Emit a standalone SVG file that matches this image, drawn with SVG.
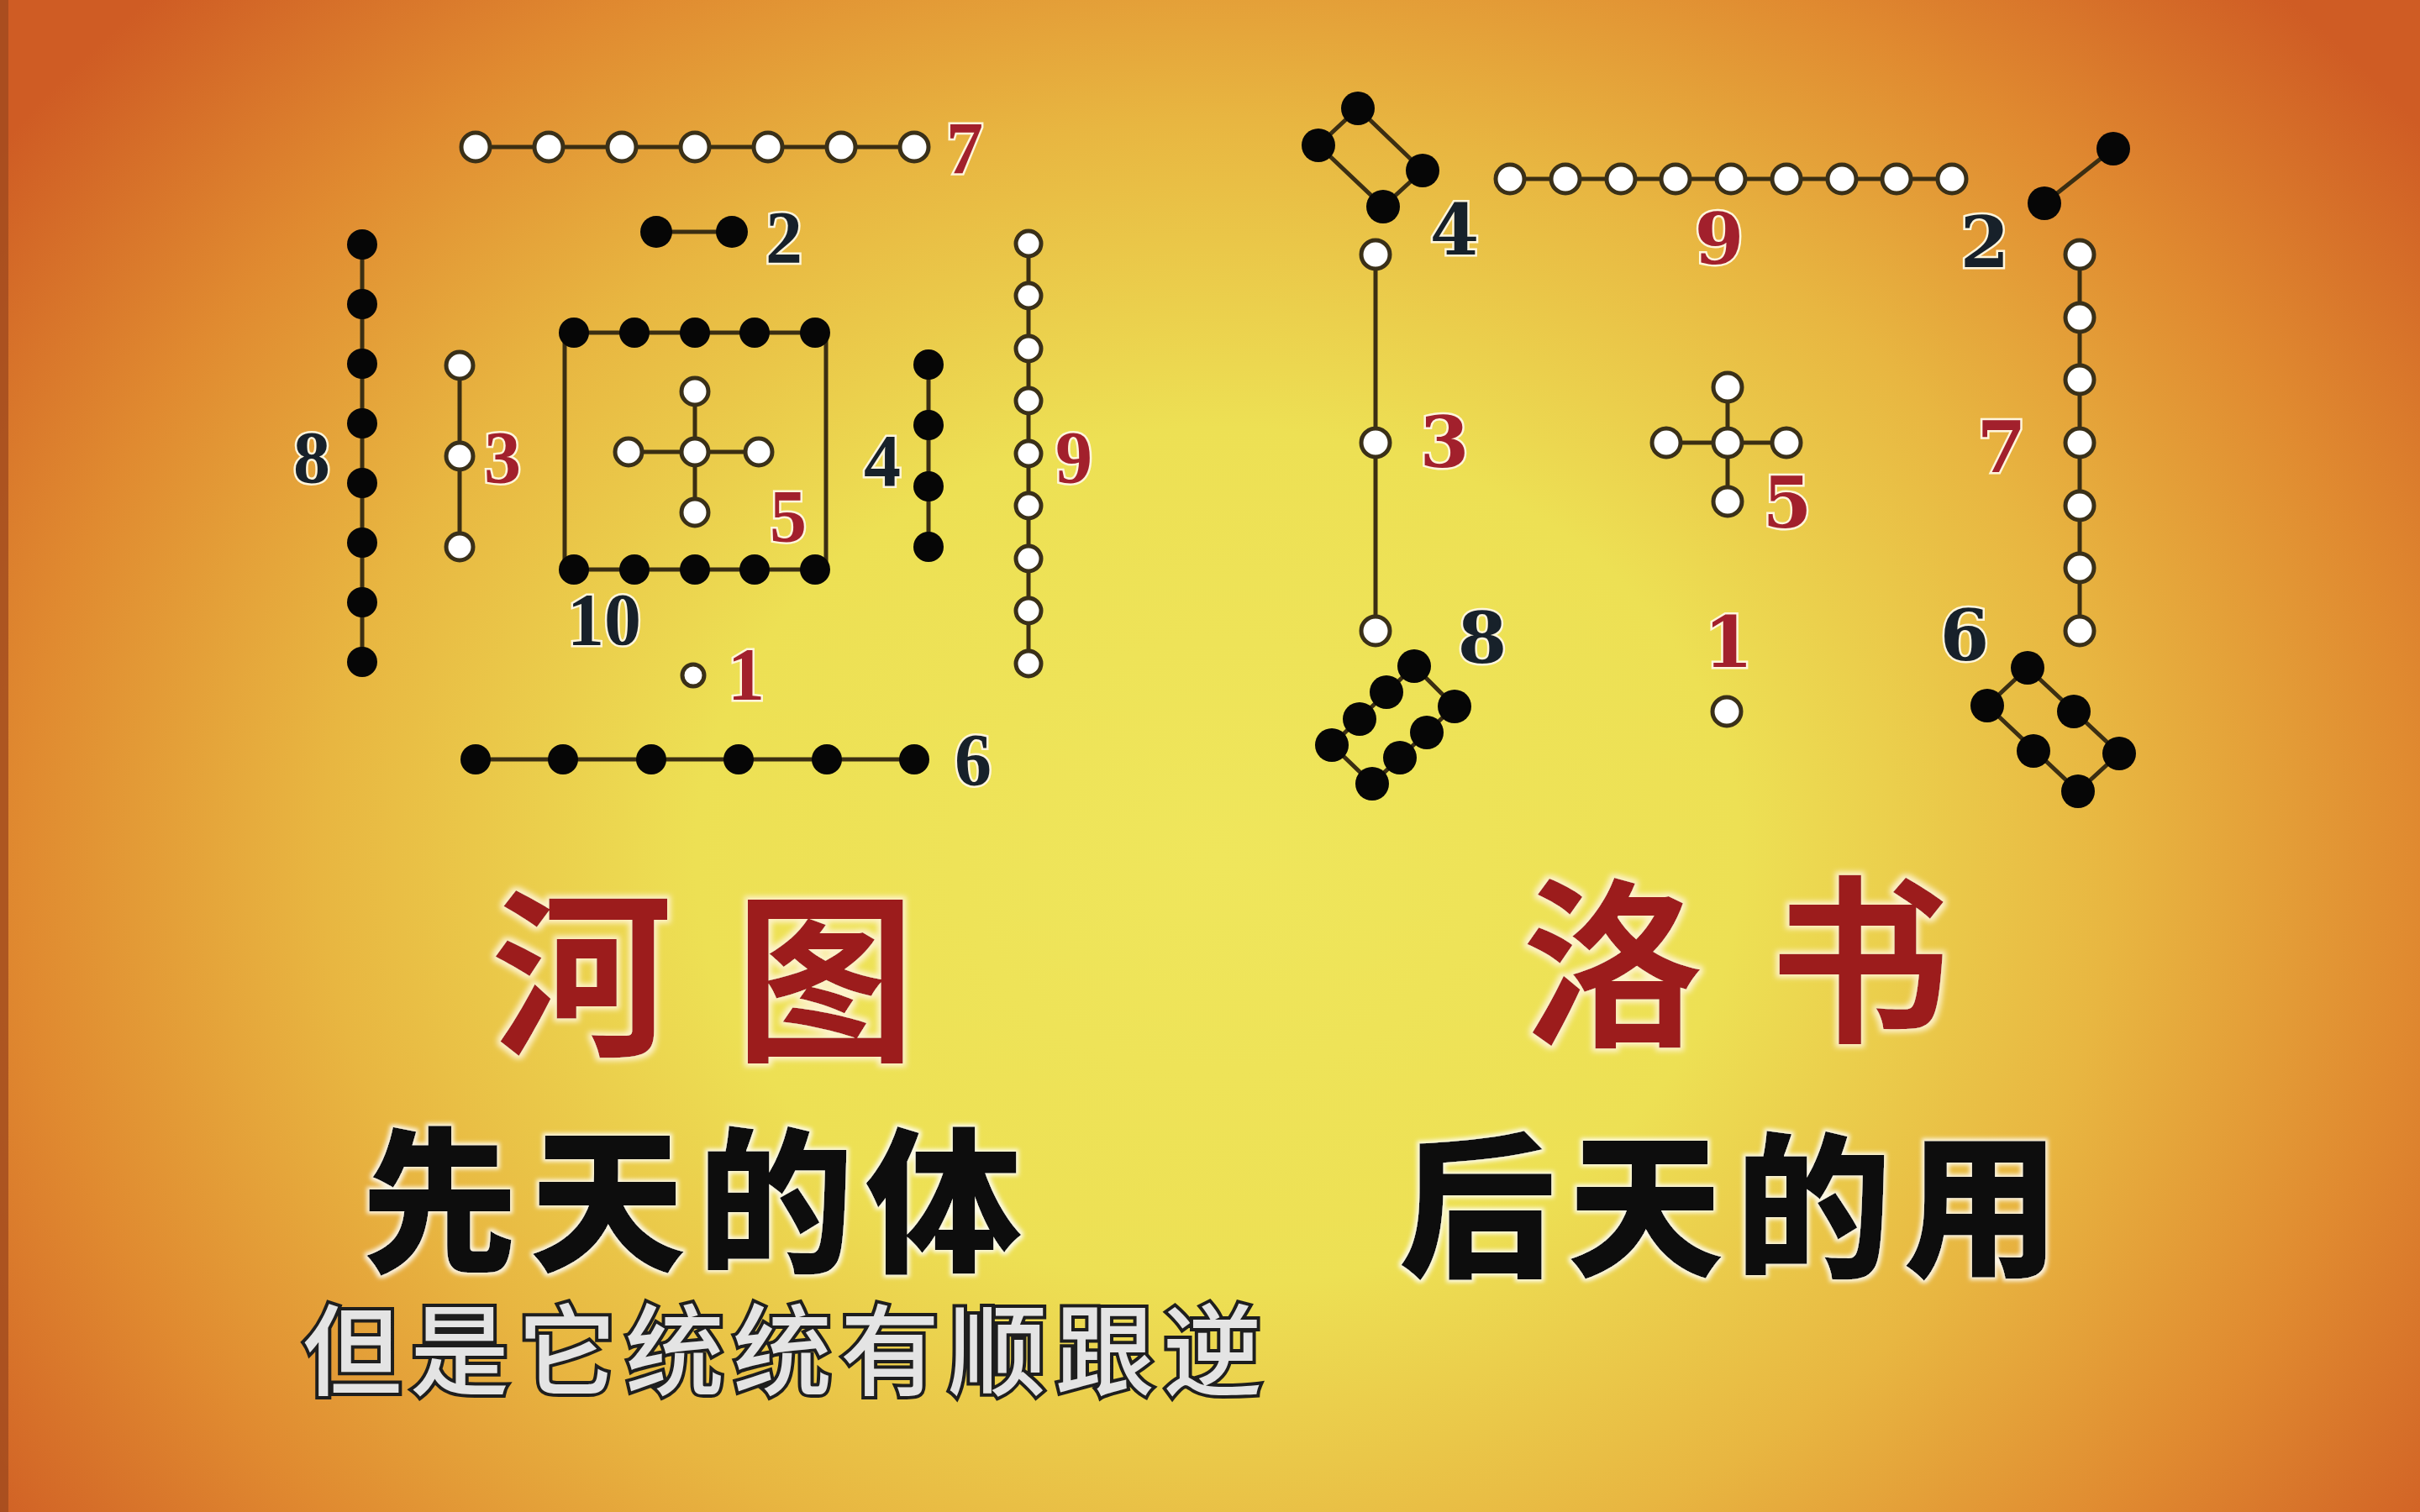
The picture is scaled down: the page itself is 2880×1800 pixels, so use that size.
<svg xmlns="http://www.w3.org/2000/svg" width="2880" height="1800" viewBox="0 0 2880 1800">
<defs>
  <radialGradient id="bg" gradientUnits="userSpaceOnUse" cx="1450" cy="1020" r="1780" gradientTransform="translate(1450 1020) scale(1 0.82) translate(-1450 -1020)">
    <stop offset="0" stop-color="#efe65c"/>
    <stop offset="0.35" stop-color="#ede054"/>
    <stop offset="0.6" stop-color="#e8b641"/>
    <stop offset="0.8" stop-color="#e08a30"/>
    <stop offset="1" stop-color="#cf5c24"/>
  </radialGradient>
  <filter id="halo" x="-20%" y="-20%" width="140%" height="140%">
    <feMorphology in="SourceAlpha" operator="dilate" radius="4" result="d"/>
    <feGaussianBlur in="d" stdDeviation="3" result="b"/>
    <feFlood flood-color="#fff4d6" flood-opacity="0.9"/>
    <feComposite in2="b" operator="in" result="h"/>
    <feMerge><feMergeNode in="h"/><feMergeNode in="SourceGraphic"/></feMerge>
  </filter>
  <filter id="halo2" x="-20%" y="-20%" width="140%" height="140%">
    <feMorphology in="SourceAlpha" operator="dilate" radius="3" result="d"/>
    <feGaussianBlur in="d" stdDeviation="2.5" result="b"/>
    <feFlood flood-color="#ffffff" flood-opacity="0.85"/>
    <feComposite in2="b" operator="in" result="h"/>
    <feMerge><feMergeNode in="h"/><feMergeNode in="SourceGraphic"/></feMerge>
  </filter>
</defs>
<style>
  .ln{stroke:#3b2e12;stroke-width:5;fill:none}
  .w{fill:#ffffff;stroke:#3a3018;stroke-width:5}
  .b{fill:#060606}
  .ht{font-family:"Liberation Serif",serif;font-weight:bold;font-size:88px;text-anchor:middle;stroke:#fff6dc;stroke-width:5;paint-order:stroke fill}
  .ls{font-family:"DejaVu Serif",serif;font-weight:bold;font-size:84px;text-anchor:middle;stroke:#fff6dc;stroke-width:5;paint-order:stroke fill}
  .red{fill:#a2202c}
  .dk{fill:#17212a}
  .title{font-family:"Noto Sans CJK SC",sans-serif;font-weight:bold;font-size:215px;fill:#9c1a1c}
  .sub{font-family:"Noto Sans CJK SC",sans-serif;font-weight:900;font-size:186px;fill:#0a0a0a;letter-spacing:14px}
  .cap{font-family:"Noto Sans CJK SC",sans-serif;font-weight:500;font-size:118px;fill:#e4e4e4;stroke:#1e1e1e;stroke-width:8;paint-order:stroke fill;letter-spacing:10px}
</style>
<rect x="0" y="0" width="2880" height="1800" fill="url(#bg)"/>
<rect x="0" y="0" width="10" height="1800" fill="#a04a1e" opacity="0.8"/>

<g id="connectors">
  <line class="ln" x1="566" y1="175" x2="1088" y2="175"/>
  <line class="ln" x1="781" y1="276" x2="871" y2="276"/>
  <line class="ln" x1="431" y1="291" x2="431" y2="788"/>
  <line class="ln" x1="547" y1="435" x2="547" y2="651"/>
  <line class="ln" x1="1105" y1="434" x2="1105" y2="651"/>
  <line class="ln" x1="1224" y1="290" x2="1224" y2="790"/>
  <rect class="ln" x="672" y="396" width="311" height="282"/>
  <line class="ln" x1="827" y1="466" x2="827" y2="610"/>
  <line class="ln" x1="748" y1="538" x2="903" y2="538"/>
  <line class="ln" x1="566" y1="904" x2="1088" y2="904"/>
  <polygon class="ln" points="1616,129 1693,203 1646,246 1569,173"/>
  <line class="ln" x1="1797" y1="213" x2="2323" y2="213"/>
  <line class="ln" x1="2515" y1="177" x2="2433" y2="242"/>
  <line class="ln" x1="1637" y1="303" x2="1637" y2="751"/>
  <line class="ln" x1="2056" y1="461" x2="2056" y2="597"/>
  <line class="ln" x1="1983" y1="527" x2="2126" y2="527"/>
  <line class="ln" x1="2475" y1="303" x2="2475" y2="751"/>
  <polygon class="ln" points="1683,793 1731,841 1633,933 1585,887"/>
  <polygon class="ln" points="2413,795 2522,897 2473,942 2365,840"/>
</g>

<g id="hetu-7">
  <circle class="w" cx="566" cy="175" r="17"/><circle class="w" cx="653" cy="175" r="17"/><circle class="w" cx="740" cy="175" r="17"/><circle class="w" cx="827" cy="175" r="17"/><circle class="w" cx="914" cy="175" r="17"/><circle class="w" cx="1001" cy="175" r="17"/><circle class="w" cx="1088" cy="175" r="17"/>
  <text class="ht red" x="1148" y="206">7</text>
</g>
<g id="hetu-2">
  <circle class="b" cx="781" cy="276" r="19"/><circle class="b" cx="871" cy="276" r="19"/>
  <text class="ht dk" x="933" y="312">2</text>
</g>
<g id="hetu-8">
  <circle class="b" cx="431" cy="291" r="18"/><circle class="b" cx="431" cy="362" r="18"/><circle class="b" cx="431" cy="433" r="18"/><circle class="b" cx="431" cy="504" r="18"/><circle class="b" cx="431" cy="575" r="18"/><circle class="b" cx="431" cy="646" r="18"/><circle class="b" cx="431" cy="717" r="18"/><circle class="b" cx="431" cy="788" r="18"/>
  <text class="ht dk" x="371" y="574">8</text>
</g>
<g id="hetu-3">
  <circle class="w" cx="547" cy="435" r="16"/><circle class="w" cx="547" cy="543" r="16"/><circle class="w" cx="547" cy="651" r="16"/>
  <text class="ht red" x="598" y="574">3</text>
</g>
<g id="hetu-10">
  <circle class="b" cx="683" cy="396" r="18"/><circle class="b" cx="755" cy="396" r="18"/><circle class="b" cx="827" cy="396" r="18"/><circle class="b" cx="898" cy="396" r="18"/><circle class="b" cx="970" cy="396" r="18"/>
  <circle class="b" cx="683" cy="678" r="18"/><circle class="b" cx="755" cy="678" r="18"/><circle class="b" cx="827" cy="678" r="18"/><circle class="b" cx="898" cy="678" r="18"/><circle class="b" cx="970" cy="678" r="18"/>
  <text class="ht dk" x="719" y="767" font-weight="normal">10</text>
</g>
<g id="hetu-5">
  <circle class="w" cx="827" cy="466" r="16"/><circle class="w" cx="748" cy="538" r="16"/><circle class="w" cx="827" cy="538" r="16"/><circle class="w" cx="903" cy="538" r="16"/><circle class="w" cx="827" cy="610" r="16"/>
  <text class="ht red" x="938" y="644">5</text>
</g>
<g id="hetu-4">
  <circle class="b" cx="1105" cy="434" r="18"/><circle class="b" cx="1105" cy="506" r="18"/><circle class="b" cx="1105" cy="579" r="18"/><circle class="b" cx="1105" cy="651" r="18"/>
  <text class="ht dk" x="1050" y="578">4</text>
</g>
<g id="hetu-9">
  <circle class="w" cx="1224" cy="290" r="15"/><circle class="w" cx="1224" cy="352" r="15"/><circle class="w" cx="1224" cy="415" r="15"/><circle class="w" cx="1224" cy="477" r="15"/><circle class="w" cx="1224" cy="540" r="15"/><circle class="w" cx="1224" cy="602" r="15"/><circle class="w" cx="1224" cy="665" r="15"/><circle class="w" cx="1224" cy="727" r="15"/><circle class="w" cx="1224" cy="790" r="15"/>
  <text class="ht red" x="1278" y="574">9</text>
</g>
<g id="hetu-1">
  <circle class="w" cx="825" cy="804" r="13" stroke-width="4"/>
  <text class="ht red" x="888" y="832">1</text>
</g>
<g id="hetu-6">
  <circle class="b" cx="566" cy="904" r="18"/><circle class="b" cx="670" cy="904" r="18"/><circle class="b" cx="775" cy="904" r="18"/><circle class="b" cx="879" cy="904" r="18"/><circle class="b" cx="984" cy="904" r="18"/><circle class="b" cx="1088" cy="904" r="18"/>
  <text class="ht dk" x="1158" y="934">6</text>
</g>

<g id="luoshu-4">
  <circle class="b" cx="1616" cy="129" r="20"/><circle class="b" cx="1569" cy="173" r="20"/><circle class="b" cx="1693" cy="203" r="20"/><circle class="b" cx="1646" cy="246" r="20"/>
  <text class="ls dk" x="1731" y="303">4</text>
</g>
<g id="luoshu-9">
  <circle class="w" cx="1797" cy="213" r="17"/><circle class="w" cx="1863" cy="213" r="17"/><circle class="w" cx="1929" cy="213" r="17"/><circle class="w" cx="1994" cy="213" r="17"/><circle class="w" cx="2060" cy="213" r="17"/><circle class="w" cx="2126" cy="213" r="17"/><circle class="w" cx="2192" cy="213" r="17"/><circle class="w" cx="2257" cy="213" r="17"/><circle class="w" cx="2323" cy="213" r="17"/>
  <text class="ls red" x="2046" y="314">9</text>
</g>
<g id="luoshu-2">
  <circle class="b" cx="2515" cy="177" r="20"/><circle class="b" cx="2433" cy="242" r="20"/>
  <text class="ls dk" x="2362" y="318">2</text>
</g>
<g id="luoshu-3">
  <circle class="w" cx="1637" cy="303" r="17"/><circle class="w" cx="1637" cy="527" r="17"/><circle class="w" cx="1637" cy="751" r="17"/>
  <text class="ls red" x="1719" y="556">3</text>
</g>
<g id="luoshu-5">
  <circle class="w" cx="2056" cy="461" r="17"/><circle class="w" cx="1983" cy="527" r="17"/><circle class="w" cx="2056" cy="527" r="17"/><circle class="w" cx="2126" cy="527" r="17"/><circle class="w" cx="2056" cy="597" r="17"/>
  <text class="ls red" x="2127" y="628">5</text>
</g>
<g id="luoshu-7">
  <circle class="w" cx="2475" cy="303" r="17"/><circle class="w" cx="2475" cy="378" r="17"/><circle class="w" cx="2475" cy="452" r="17"/><circle class="w" cx="2475" cy="527" r="17"/><circle class="w" cx="2475" cy="602" r="17"/><circle class="w" cx="2475" cy="676" r="17"/><circle class="w" cx="2475" cy="751" r="17"/>
  <text class="ls red" x="2382" y="562">7</text>
</g>
<g id="luoshu-1">
  <circle class="w" cx="2055" cy="847" r="17"/>
  <text class="ls red" x="2057" y="794">1</text>
</g>
<g id="luoshu-8">
  <circle class="b" cx="1683" cy="793" r="20"/><circle class="b" cx="1650" cy="824" r="20"/><circle class="b" cx="1618" cy="856" r="20"/><circle class="b" cx="1585" cy="887" r="20"/>
  <circle class="b" cx="1731" cy="841" r="20"/><circle class="b" cx="1698" cy="872" r="20"/><circle class="b" cx="1666" cy="902" r="20"/><circle class="b" cx="1633" cy="933" r="20"/>
  <text class="ls dk" x="1764" y="789">8</text>
</g>
<g id="luoshu-6">
  <circle class="b" cx="2413" cy="795" r="20"/><circle class="b" cx="2468" cy="847" r="20"/><circle class="b" cx="2522" cy="897" r="20"/>
  <circle class="b" cx="2365" cy="840" r="20"/><circle class="b" cx="2420" cy="894" r="20"/><circle class="b" cx="2473" cy="942" r="20"/>
  <text class="ls dk" x="2338" y="786">6</text>
</g>

<g id="title-hetu" filter="url(#halo)">
  <text class="title" x="693" y="1240" text-anchor="middle">河</text>
  <text class="title" x="982" y="1246" text-anchor="middle">图</text>
</g>
<g id="title-luoshu" filter="url(#halo)">
  <text class="title" x="1919" y="1228" text-anchor="middle">洛</text>
  <text class="title" x="2213" y="1224" text-anchor="middle">书</text>
</g>
<g id="sub-hetu" filter="url(#halo2)">
  <text class="sub" x="430" y="1500">先天的体</text>
</g>
<g id="sub-luoshu" filter="url(#halo2)">
  <text class="sub" x="1665" y="1506">后天的用</text>
</g>
<g id="caption">
  <text class="cap" x="360" y="1652">但是它统统有顺跟逆</text>
</g>
</svg>
